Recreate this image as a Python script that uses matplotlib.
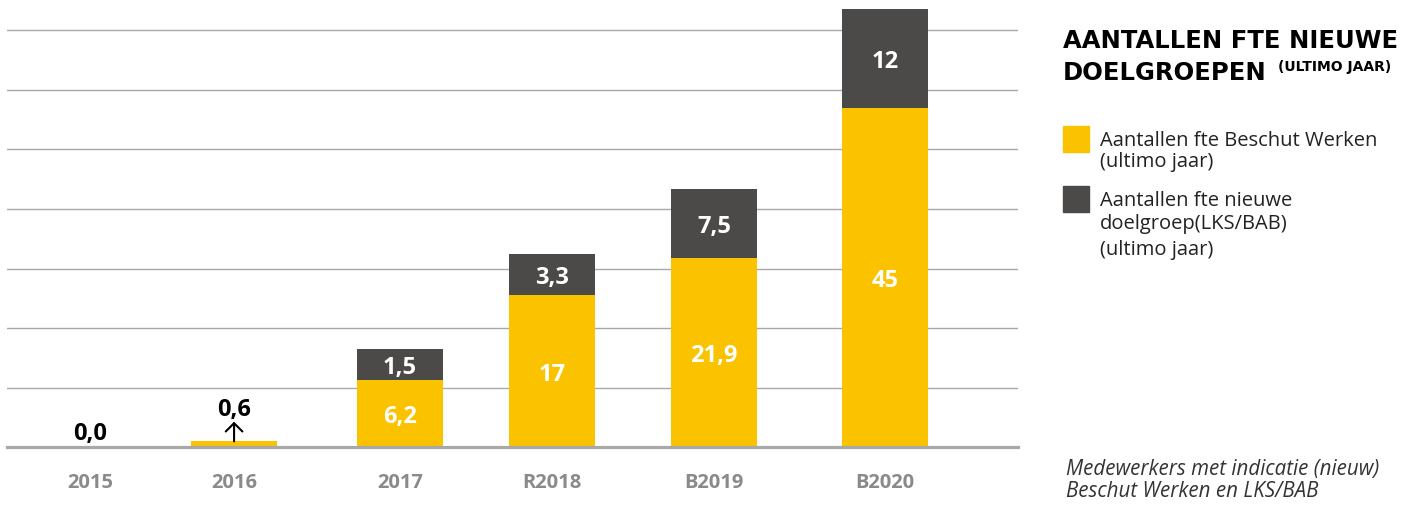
import matplotlib
matplotlib.use("Agg")
import matplotlib.pyplot as plt
from matplotlib.patches import Rectangle

# ---- data (bar heights as drawn, in grid units; labels as printed) ----
categories = ["2015", "2016", "2017", "R2018", "B2019", "B2020"]
beschut_heights = [0.0, 1.0, 11.3, 25.5, 31.8, 57.0]
nieuw_heights = [0.0, 0.0, 5.2, 7.0, 11.6, 16.6]
beschut_labels = ["", "", "6,2", "17", "21,9", "45"]
nieuw_labels = ["", "", "1,5", "3,3", "7,5", "12"]
outside_labels = ["0,0", "0,6", "", "", "", ""]
grid_values = [10, 20, 30, 40, 50, 60, 70]

# ---- layout ----
x_pos = [0.0, 0.906, 1.95, 2.906, 3.925, 5.0]
bar_w = 0.541
YELLOW = "#FBC200"
DARK = "#4B4A48"
GRID = "#A8A8A8"
FONT = "Open Sans"
TITLE_FONT = "DejaVu Sans"

W, H = 1417, 506
fig = plt.figure(figsize=(W / 100, H / 100), dpi=100)
ax_left, ax_right = 7 / W, 1018 / W
ax_bottom = 1 - 448.3 / H
ax = fig.add_axes([ax_left, ax_bottom, ax_right - ax_left, 1 - ax_bottom])
ax.set_xlim(-0.522, 5.836)
ax.set_ylim(0, 448.3 / 5.957)
ax.axis("off")

for g in grid_values:
    ax.axhline(g, color=GRID, lw=1.0, zorder=0)
ax.axhline(0, color=GRID, lw=2.3, zorder=3, clip_on=False)

ax.bar(x_pos, beschut_heights, width=bar_w, color=YELLOW, zorder=2)
ax.bar(x_pos, nieuw_heights, bottom=beschut_heights, width=bar_w, color=DARK, zorder=2)

val_kw = dict(ha="center", va="center", fontsize=17, fontweight="bold", family=FONT)
for i, x in enumerate(x_pos):
    b, n = beschut_heights[i], nieuw_heights[i]
    if beschut_labels[i]:
        ax.text(x, b / 2 - 0.4, beschut_labels[i], color="white", zorder=4, **val_kw)
    if nieuw_labels[i]:
        ax.text(x, b + n / 2 - 0.4, nieuw_labels[i], color="white", zorder=4, **val_kw)
    ax.text(x, -5.8, categories[i], ha="center", va="center", color="#8A8A8A",
            fontsize=14.5, fontweight="bold", family=FONT, clip_on=False)

# outside labels
ax.text(x_pos[0], 2.4, outside_labels[0], color="black", **val_kw)
ax.annotate("", xy=(x_pos[1], 4.3), xytext=(x_pos[1], beschut_heights[1]),
            arrowprops=dict(arrowstyle="->,head_length=0.3,head_width=0.3",
                            color="black", lw=1.5,
                            shrinkA=0, shrinkB=0, mutation_scale=20), zorder=4)
ax.text(x_pos[1], 6.4, outside_labels[1], color="black", **val_kw)


def fy(py):
    return 1 - py / H


# ---- title ----
fig.text(1063 / W, fy(41), "AANTALLEN FTE NIEUWE", ha="left", va="center",
         fontsize=17.5, fontweight="bold", family=TITLE_FONT, color="black")
fig.text(1063 / W, fy(73), "DOELGROEPEN", ha="left", va="center",
         fontsize=17.5, fontweight="bold", family=TITLE_FONT, color="black")
fig.text(1278 / W, fy(67), "(ULTIMO JAAR)", ha="left", va="center",
         fontsize=10, fontweight="bold", family=TITLE_FONT, color="black")

# ---- legend ----
fig.patches.append(Rectangle((1063 / W, fy(153)), 26 / W, 26 / H, color=YELLOW,
                             transform=fig.transFigure, figure=fig))
fig.patches.append(Rectangle((1063 / W, fy(213)), 26 / W, 26 / H, color=DARK,
                             transform=fig.transFigure, figure=fig))
leg_kw = dict(ha="left", va="center", fontsize=14.5, family=FONT, color="#222222")
fig.text(1100 / W, fy(141), "Aantallen fte Beschut Werken", **leg_kw)
fig.text(1100 / W, fy(162), "(ultimo jaar)", **leg_kw)
fig.text(1100 / W, fy(201), "Aantallen fte nieuwe", **leg_kw)
fig.text(1100 / W, fy(224), "doelgroep(LKS/BAB)", **leg_kw)
fig.text(1100 / W, fy(250), "(ultimo jaar)", **leg_kw)

# ---- footnote ----
foot_kw = dict(ha="left", va="center", fontsize=14.8, family=FONT, style="italic",
               color="#333333")
fig.text(1066 / W, fy(470), "Medewerkers met indicatie (nieuw)", **foot_kw)
fig.text(1066 / W, fy(492), "Beschut Werken en LKS/BAB", **foot_kw)

fig.savefig("out.png", dpi=100)
